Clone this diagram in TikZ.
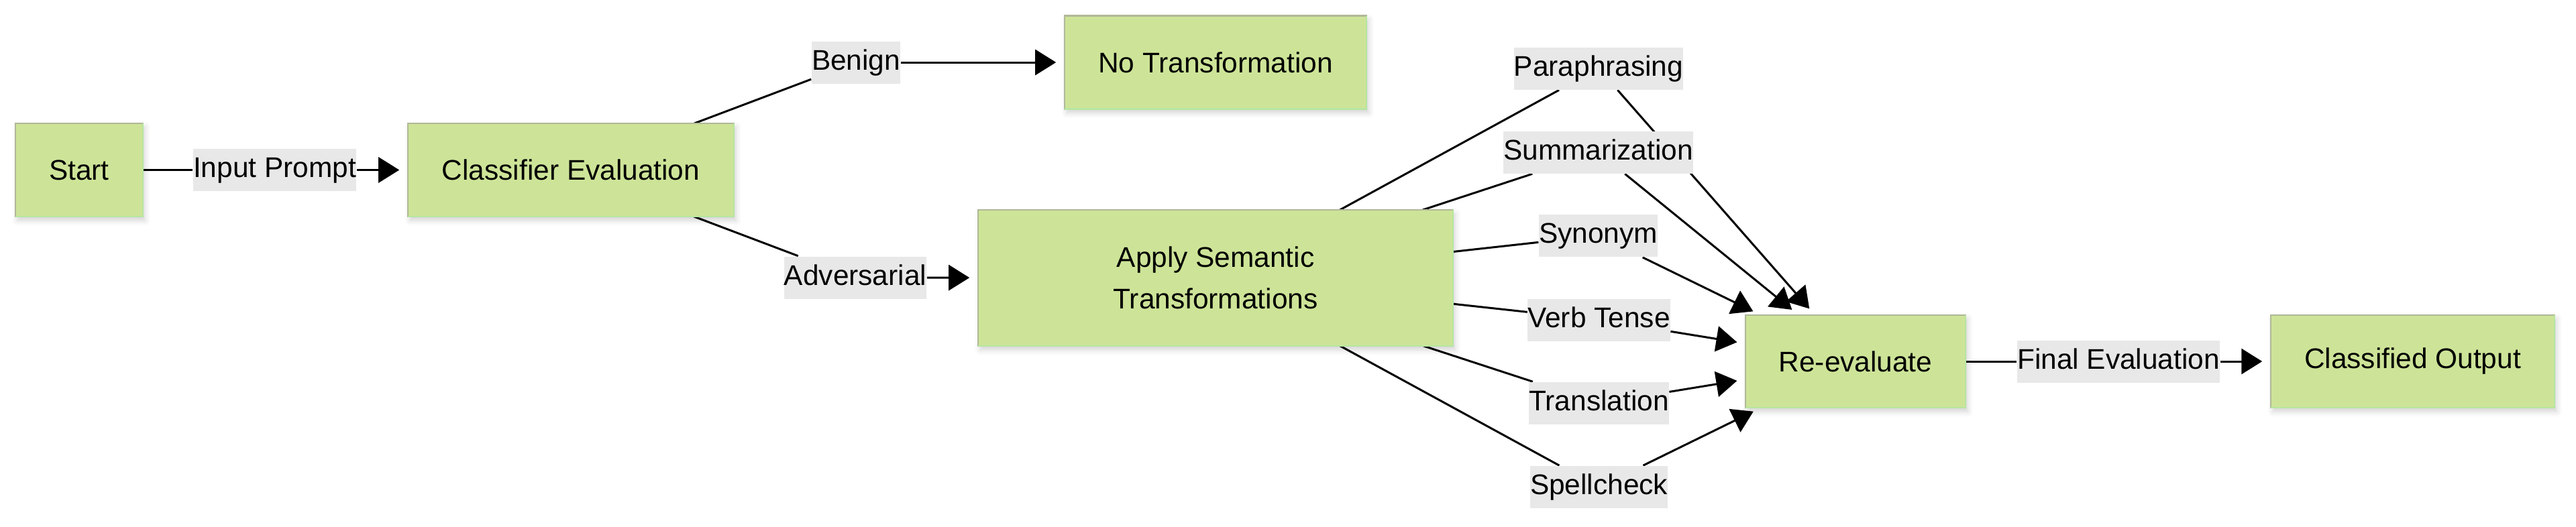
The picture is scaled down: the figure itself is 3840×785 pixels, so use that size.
\documentclass[tikz,border=0pt]{standalone}
\usepackage{fontspec}
\setmainfont{Liberation Sans}
\usetikzlibrary{arrows.meta,shadows.blur}
\definecolor{boxfill}{HTML}{CDE498}
\definecolor{boxedge}{HTML}{B0B898}
\definecolor{boxedgeb}{HTML}{B6E6A0}
\definecolor{lblfill}{HTML}{E8E8E8}
\pgfdeclarelayer{bg}
\pgfsetlayers{bg,main}
\begin{document}
\begin{tikzpicture}[x=0.25pt,y=-0.25pt,
  box/.style={draw=boxedge, line width=0.6pt, fill=boxfill, inner sep=0pt, outer sep=0pt,
    font=\fontsize{10.6}{15.6}\selectfont, align=center,
    blur shadow={shadow xshift=0.8pt, shadow yshift=-1.4pt, shadow blur radius=2pt, shadow opacity=18}},
  lbl/.style={fill=lblfill, inner sep=0pt, minimum height=15.75pt, text height=7.8pt, text depth=2.3pt,
    font=\fontsize{10.6}{12}\selectfont},
  edge/.style={line width=0.75pt, draw=black},
  arr/.style={edge, -{Triangle[length=7.75pt,width=9.5pt]}, shorten >=3.2pt},
]
\useasboundingbox (0,0) rectangle (3840,785);
% boxes
\node[box, minimum width=47.5pt, minimum height=34.75pt] (start) at (118,253.5) {Start};
\node[box, minimum width=121.5pt, minimum height=34.75pt] (cls) at (851,253.5) {Classifier Evaluation};
\node[box, minimum width=112.5pt, minimum height=34.75pt] (notr) at (1812,93) {No Transformation};
\node[box, minimum width=177pt, minimum height=50.75pt] (apply) at (1812,414.5) {Apply Semantic\\Transformations};
\node[box, minimum width=82pt, minimum height=34.5pt] (reev) at (2766,539) {Re-evaluate};
\node[box, minimum width=105.75pt, minimum height=34.5pt] (out) at (3596.5,539) {Classified Output};
\foreach \n in {start,cls,notr,apply,reev,out}
  \draw[boxedgeb, line width=0.6pt] (\n.north east) -- (\n.south east) -- (\n.south west);
% labels
\node[lbl] (inp) at (409.5,253.5) {Input Prompt};
\node[lbl] (benign) at (1276,93) {Benign};
\node[lbl] (adv) at (1275,414) {Adversarial};
\node[lbl] (para) at (2383,102) {Paraphrasing};
\node[lbl] (summ) at (2382.5,227) {Summarization};
\node[lbl] (syn) at (2382.5,351.5) {Synonym};
\node[lbl] (verb) at (2383.5,477) {Verb Tense};
\node[lbl] (trans) at (2383.5,601.5) {Translation};
\node[lbl] (spell) at (2383.5,726.5) {Spellcheck};
\node[lbl] (fin) at (3158,539) {Final Evaluation};
% connectors
\begin{pgfonlayer}{bg}
\draw[edge] (start) -- (inp);
\draw[arr] (inp) -- (cls);
\draw[edge] (cls) -- (benign);
\draw[arr] (benign) -- (notr);
\draw[edge] (cls) -- (adv);
\draw[arr] (adv) -- (apply);
\foreach \l in {para,summ,syn,verb,trans,spell} {
  \draw[edge] (apply) -- (\l);
  \draw[arr] (\l) -- (reev);
}
\draw[edge] (reev) -- (fin);
\draw[arr] (fin) -- (out);
\end{pgfonlayer}
\end{tikzpicture}
\end{document}
